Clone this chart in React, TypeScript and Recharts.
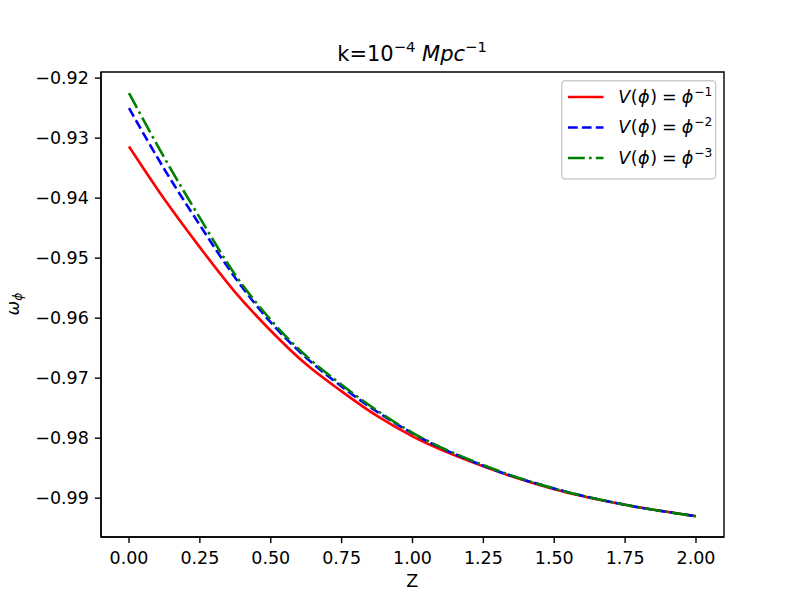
import React from 'react';
import { LineChart, Line, XAxis, YAxis, ReferenceArea } from 'recharts';

const zValues = [0, 0.125, 0.25, 0.375, 0.5, 0.625, 0.75, 0.875, 1.0, 1.25, 1.5, 1.75, 2.0];
const wPhiInv1 = [-0.9314, -0.9402, -0.9482, -0.9557, -0.9621, -0.9677, -0.9722, -0.9763, -0.9797, -0.9847, -0.9885, -0.9911, -0.993];
const wPhiInv2 = [-0.925, -0.9352, -0.9445, -0.9533, -0.9607, -0.9666, -0.9714, -0.9756, -0.9792, -0.9846, -0.9884, -0.9911, -0.993];
const wPhiInv3 = [-0.9225, -0.9333, -0.9433, -0.9528, -0.9603, -0.9663, -0.9711, -0.9754, -0.9791, -0.9845, -0.9884, -0.9911, -0.993];
const xTicks = [0, 0.25, 0.5, 0.75, 1.0, 1.25, 1.5, 1.75, 2.0];
const yTicks = [-0.99, -0.98, -0.97, -0.96, -0.95, -0.94, -0.93, -0.92];
const seriesExponents = ['−1', '−2', '−3'];

const X_DOMAIN: [number, number] = [-0.0988, 2.0988];
const Y_DOMAIN: [number, number] = [-0.99647, -0.91898];

const data = zValues.map((z, i) => ({ z, a: wPhiInv1[i], b: wPhiInv2[i], c: wPhiInv3[i] }));

const FONT = '"DejaVu Sans", sans-serif';
const FS = 17.5;
const SUB = 12.25;
const LW = 2.62;
const SPINE = 1.4;
const TICK = 6.1;

const styles = [
  { key: 'a', color: '#ff0000', dash: undefined as string | undefined },
  { key: 'b', color: '#0000ff', dash: '9.7 4.19' },
  { key: 'c', color: '#008000', dash: '16.8 4.19 2.62 4.19' },
];

const fmtMinus = (v: number) => (v < 0 ? '\u2212' : '') + Math.abs(v).toFixed(2);

export default function App() {
  return (
    <div style={{ position: 'absolute', left: 0, top: 0, width: 805, height: 604, background: '#fff' }}>
      <LineChart width={805} height={604} data={data} margin={{ top: 72, right: 81, bottom: 0, left: 0 }}>
        <ReferenceArea x1={X_DOMAIN[0]} x2={X_DOMAIN[1]} y1={Y_DOMAIN[0]} y2={Y_DOMAIN[1]} fill="none" stroke="#000" strokeWidth={SPINE} ifOverflow="visible" />
        <XAxis
          dataKey="z"
          type="number"
          domain={X_DOMAIN}
          allowDataOverflow
          ticks={xTicks}
          tickFormatter={(v: number) => v.toFixed(2)}
          height={67}
          tickSize={TICK}
          tickMargin={8}
          axisLine={{ stroke: '#000', strokeWidth: SPINE }}
          tickLine={{ stroke: '#000', strokeWidth: SPINE }}
          tick={{ fill: '#000', fontSize: FS, fontFamily: FONT }}
        />
        <YAxis
          type="number"
          domain={Y_DOMAIN}
          allowDataOverflow
          ticks={yTicks}
          tickFormatter={fmtMinus}
          width={101}
          tickSize={TICK}
          tickMargin={6}
          axisLine={{ stroke: '#000', strokeWidth: SPINE }}
          tickLine={{ stroke: '#000', strokeWidth: SPINE }}
          tick={{ fill: '#000', fontSize: FS, fontFamily: FONT }}
        />
        {styles.map((s) => (
          <Line
            key={s.key}
            dataKey={s.key}
            type="monotone"
            stroke={s.color}
            strokeWidth={LW}
            strokeDasharray={s.dash}
            dot={false}
            activeDot={false}
            isAnimationActive={false}
          />
        ))}
      </LineChart>
      <svg width={805} height={604} style={{ position: 'absolute', left: 0, top: 0, pointerEvents: 'none' }} fontFamily={FONT}>
        <text x={412} y={61} textAnchor="middle" fontSize={21} fill="#000">
          <tspan>k=10</tspan>
          <tspan fontSize={14.7} dy={-9.3}>−4</tspan>
          <tspan dy={9.3}> </tspan>
          <tspan fontStyle="italic">Mpc</tspan>
          <tspan fontSize={14.7} dy={-9.3}>−1</tspan>
        </text>
        <text x={412.3} y={586.7} textAnchor="middle" fontSize={FS} fill="#000">Z</text>
        <text transform="translate(18.5,304) rotate(-90)" textAnchor="middle" fontSize={FS} fill="#000">
          <tspan fontStyle="italic">ω</tspan>
          <tspan fontStyle="italic" fontSize={SUB} dy={3}>ϕ</tspan>
        </text>
        <rect x={561.7} y={80.7} width={154} height={98.3} rx={3.5} ry={3.5} fill="#fff" fillOpacity={0.8} stroke="#cccccc" strokeWidth={1.4} />
        {styles.map((s, i) => {
          const y = 97 + i * 30.5;
          return (
            <g key={s.key}>
              <line x1={568} y1={y} x2={603.5} y2={y} stroke={s.color} strokeWidth={LW} strokeDasharray={s.dash} />
              <text x={618.3} y={y + 5.7} fontSize={FS} fill="#000">
                <tspan fontStyle="italic">V</tspan>
                <tspan dx={0.5}>(</tspan>
                <tspan fontStyle="italic" dx={0.5}>ϕ</tspan>
                <tspan dx={0.5}>)</tspan>
                <tspan dx={5}>=</tspan>
                <tspan fontStyle="italic" dx={5}>ϕ</tspan>
                <tspan fontSize={SUB} dx={1} dy={-7}>{seriesExponents[i]}</tspan>
              </text>
            </g>
          );
        })}
      </svg>
    </div>
  );
}
